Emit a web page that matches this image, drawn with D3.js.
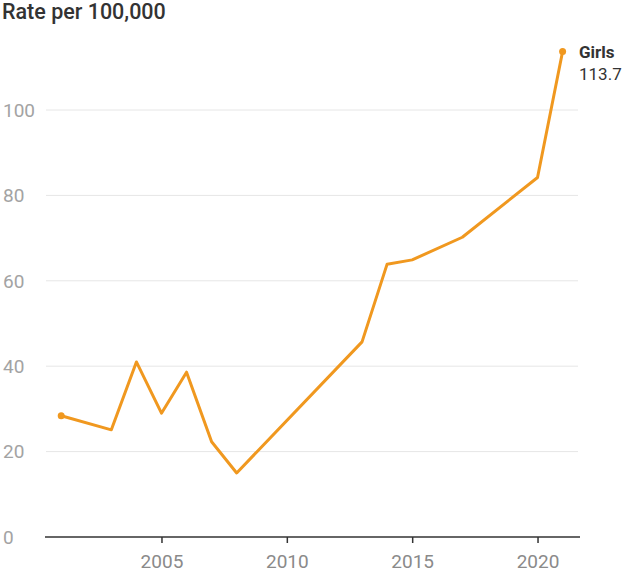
<!DOCTYPE html>
<html>
<head>
<meta charset="utf-8">
<script src="https://cdn.jsdelivr.net/npm/d3@7"></script>
<style>
  html, body { margin: 0; padding: 0; background: #fff; }
  svg { display: block; font-family: Roboto, "Noto Sans", sans-serif; }
</style>
</head>
<body>
<svg id="chart" width="632" height="579"></svg>
<script>
const years  = [2001, 2003, 2004, 2005, 2006, 2007, 2008, 2013, 2014, 2015, 2017, 2020, 2021];
const values = [28.4, 25.1, 41.0, 29.0, 38.6, 22.3, 15.0, 45.7, 63.9, 64.9, 70.2, 84.2, 113.7];
const yTicks = [0, 20, 40, 60, 80, 100];
const xTicks = [2005, 2010, 2015, 2020];
const seriesName = "Girls";
const yTitle = "Rate per 100,000";

const svg = d3.select("#chart");
const color = "#f0981f";

const x = d3.scaleLinear().domain([2001, 2021]).range([61.2, 562.6]);
const y = d3.scaleLinear().domain([0, 100]).range([537, 110]);

// gridlines
svg.append("g").selectAll("line").data(yTicks.filter(d => d > 0)).join("line")
  .attr("x1", 46).attr("x2", 578)
  .attr("y1", d => y(d)).attr("y2", d => y(d))
  .attr("stroke", "#e6e6e6").attr("stroke-width", 1);

// y labels
svg.append("g").selectAll("text").data(yTicks).join("text")
  .attr("x", 3).attr("y", d => y(d)).attr("dy", "0.36em")
  .attr("fill", "#a3a3a3").attr("font-size", 19)
  .text(d => d);

// x axis
const xAxis = d3.axisBottom(x).tickValues(xTicks).tickFormat(d3.format("d")).tickSize(6).tickPadding(12);
const gx = svg.append("g").attr("transform", `translate(0,${y(0)})`).call(xAxis);
gx.select(".domain").attr("d", "M45,0H580").attr("stroke", "#333").attr("stroke-width", 1.5);
gx.selectAll(".tick line").attr("stroke", "#333").attr("stroke-width", 1.5);
gx.selectAll(".tick text").attr("fill", "#8a8a8a").attr("font-size", 19)
  .attr("font-family", "Roboto, sans-serif");

// line
const data = years.map((yr, i) => ({ yr, v: values[i] }));
svg.append("path").datum(data)
  .attr("fill", "none").attr("stroke", color).attr("stroke-width", 3)
  .attr("stroke-linejoin", "round").attr("stroke-linecap", "round")
  .attr("d", d3.line().x(d => x(d.yr)).y(d => y(d.v)));

// end dots
svg.append("g").selectAll("circle").data([data[0], data[data.length - 1]]).join("circle")
  .attr("cx", d => x(d.yr)).attr("cy", d => y(d.v)).attr("r", 3.5).attr("fill", color);

// label
const last = data[data.length - 1];
svg.append("text").attr("x", 579).attr("y", y(last.v) + 6)
  .attr("font-size", 17).attr("font-weight", 700).attr("fill", "#333").text(seriesName);
svg.append("text").attr("x", 579).attr("y", y(last.v) + 28)
  .attr("font-size", 17).attr("fill", "#333").text(last.v.toFixed(1));

// title
svg.append("text").attr("x", 2).attr("y", 19)
  .attr("font-size", 21.5).attr("font-weight", 500).attr("fill", "#333").text(yTitle);
</script>
</body>
</html>
